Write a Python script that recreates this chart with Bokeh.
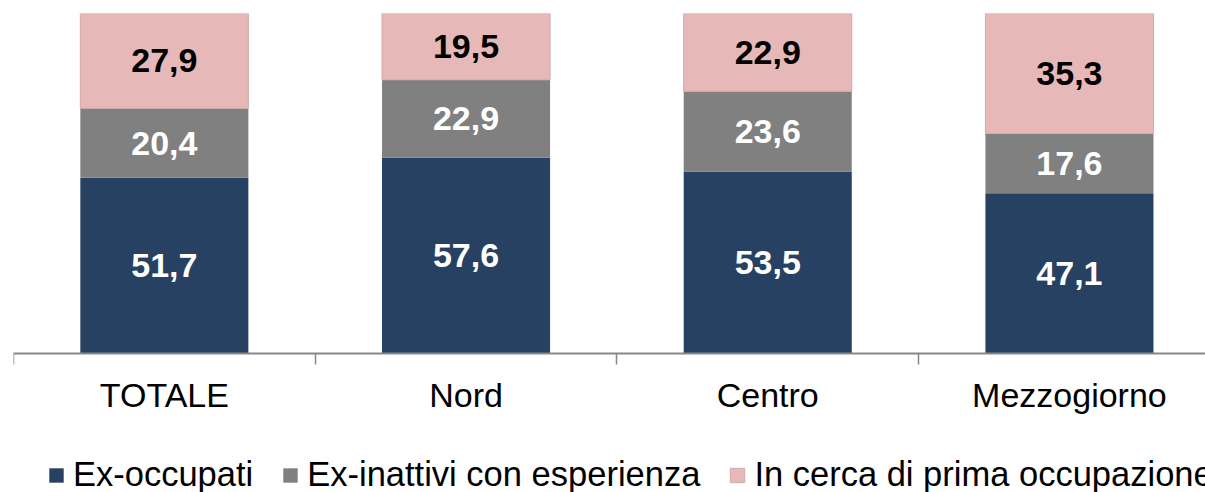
from bokeh.plotting import figure
from bokeh.models import ColumnDataSource, Range1d, FixedTicker, Legend, LegendItem
from bokeh.core.properties import value
from bokeh.embed import file_html
from bokeh.resources import INLINE

categories = ["TOTALE", "Nord", "Centro", "Mezzogiorno"]
series_names = ["Ex-occupati", "Ex-inattivi con esperienza", "In cerca di prima occupazione"]
ex_occupati = [51.7, 57.6, 53.5, 47.1]
ex_inattivi = [20.4, 22.9, 23.6, 17.6]
prima_occupazione = [27.9, 19.5, 22.9, 35.3]
colors = ["#264162", "#808080", "#E6B9B8"]
label_colors = ["white", "white", "black"]

xs = [i + 0.5 for i in range(len(categories))]
source = ColumnDataSource(dict(x=xs, s0=ex_occupati, s1=ex_inattivi, s2=prima_occupazione))

p = figure(width=1205, height=492, output_backend="svg", toolbar_location=None,
           x_range=Range1d(0, 3.951), y_range=Range1d(-40.88, 100),
           min_border_left=13, min_border_top=13, min_border_right=0, min_border_bottom=0)
p.outline_line_color = None
p.grid.visible = False
p.yaxis.visible = False

rs = p.vbar_stack(["s0", "s1", "s2"], x="x", width=0.557, source=source,
                  fill_color=colors, line_color=[None, None, "#D4A8A7"], line_width=1)

# data labels
series = [ex_occupati, ex_inattivi, prima_occupazione]
for k, vals in enumerate(series):
    mids = []
    for i in range(len(categories)):
        base = sum(series[j][i] for j in range(k))
        mids.append(base + vals[i] / 2)
    txt = [f"{v:.1f}".replace(".", ",") for v in vals]
    p.text(x=xs, y=mids, text=txt, text_align="center", text_baseline="middle",
           text_font=value("Liberation Sans"), text_font_style="bold",
           text_font_size="34px", text_color=label_colors[k])

ax = p.xaxis[0]
ax.fixed_location = 0
ax.ticker = FixedTicker(ticks=xs, minor_ticks=list(range(len(categories) + 1)))
ax.major_label_overrides = {x: c for x, c in zip(xs, categories)}
ax.major_tick_line_color = None
ax.major_tick_out = 11
ax.major_tick_in = 0
ax.minor_tick_out = 11
ax.minor_tick_in = 0
ax.minor_tick_line_color = "#888888"
ax.minor_tick_line_width = 1.5
ax.axis_line_color = "#888888"
ax.axis_line_width = 2
ax.major_label_standoff = 11
ax.major_label_text_font = "Liberation Sans"
ax.major_label_text_font_size = "34px"
ax.major_label_text_color = "black"

lg = Legend(items=[LegendItem(label=n, renderers=[r]) for n, r in zip(series_names, rs)])
lg.orientation = "horizontal"
lg.location = (34, -2)
lg.padding = 0
lg.margin = 0
lg.spacing = 28
lg.label_standoff = 8
lg.glyph_width = 18
lg.glyph_height = 18
lg.border_line_color = None
lg.background_fill_alpha = 0
lg.label_text_font = "Liberation Sans"
lg.label_text_font_size = "34.5px"
lg.label_text_color = "black"
p.add_layout(lg, "center")

open("out.html", "w").write(file_html(p, INLINE))
